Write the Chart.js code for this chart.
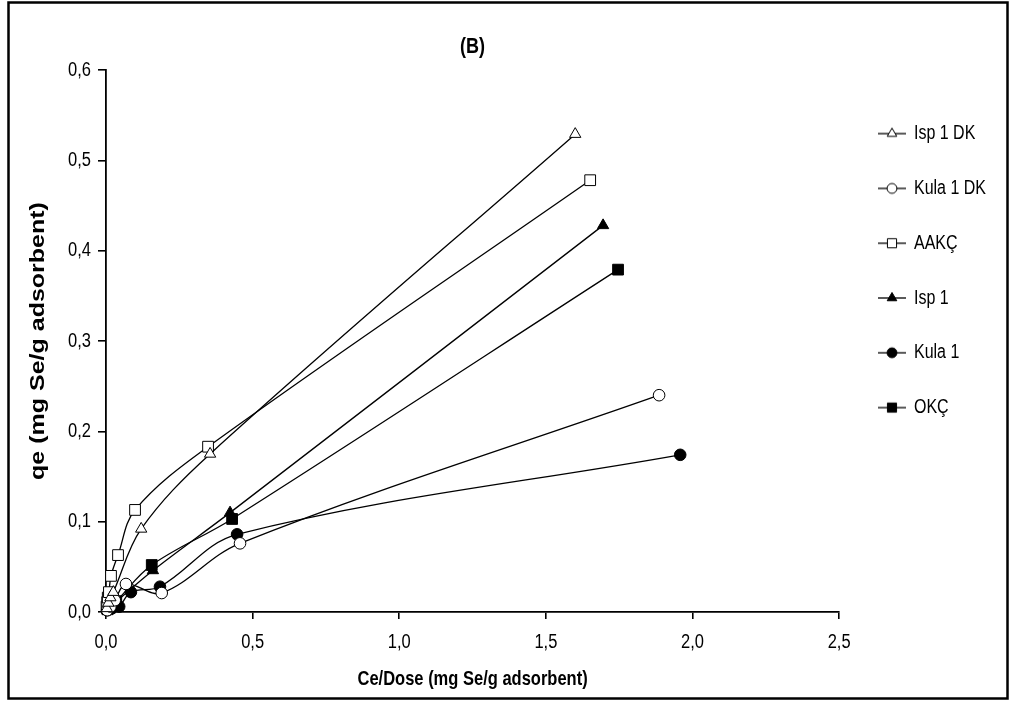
<!DOCTYPE html>
<html>
<head>
<meta charset="utf-8">
<script src="https://cdn.jsdelivr.net/npm/chart.js@4/dist/chart.umd.min.js"></script>
<style>
html, body { margin: 0; padding: 0; background: #fff; }
#wrap { position: relative; width: 1011px; height: 702px; }
</style>
</head>
<body>
<div id="wrap"><canvas id="c" width="1011" height="702"></canvas></div>
<script>
// ---- data ----
const seriesNames = ['Isp 1 DK', 'Kula 1 DK', 'AAKÇ', 'Isp 1', 'Kula 1', 'OKÇ'];

const isp1dkX = [0.003, 0.008, 0.015, 0.025, 0.12, 0.355, 1.60];
const isp1dkY = [0.004, 0.010, 0.016, 0.022, 0.092, 0.175, 0.529];

const kula1dkX = [0.004, 0.015, 0.030, 0.068, 0.19, 0.457, 1.886];
const kula1dkY = [0.002, 0.006, 0.013, 0.031, 0.021, 0.076, 0.240];

const aakcX = [0.002, 0.004, 0.006, 0.010, 0.017, 0.041, 0.099, 0.348, 1.651];
const aakcY = [0.006, 0.011, 0.016, 0.022, 0.040, 0.063, 0.113, 0.183, 0.478];

const isp1X = [0.004, 0.015, 0.030, 0.160, 0.423, 1.695];
const isp1Y = [0.002, 0.005, 0.010, 0.046, 0.110, 0.428];

const kula1X = [0.005, 0.020, 0.045, 0.085, 0.184, 0.447, 1.958];
const kula1Y = [0.002, 0.004, 0.006, 0.022, 0.028, 0.086, 0.174];

const okcX = [0.005, 0.018, 0.035, 0.156, 0.430, 1.746];
const okcY = [0.003, 0.007, 0.012, 0.052, 0.103, 0.379];

const xTickLabels = ['0,0', '0,5', '1,0', '1,5', '2,0', '2,5'];
const yTickLabels = ['0,0', '0,1', '0,2', '0,3', '0,4', '0,5', '0,6'];

const titleText = '(B)';
const xTitle = 'Ce/Dose (mg Se/g adsorbent)';
const yTitle = 'qe (mg Se/g adsorbent)';

// ---- styling ----
const FONT = "'Liberation Sans', Arial, sans-serif";
const TEXT_STRETCH = 1.25; // the reference's lettering is slightly tall
const markerStyles = [
  { pointStyle: 'triangle', filled: false, radius: 6.5 },
  { pointStyle: 'circle',   filled: false, radius: 5.8 },
  { pointStyle: 'rect',     filled: false, radius: 7.6 },
  { pointStyle: 'triangle', filled: true,  radius: 6.5 },
  { pointStyle: 'circle',   filled: true,  radius: 5.8 },
  { pointStyle: 'rect',     filled: true,  radius: 7.6 }
];
const xs = [isp1dkX, kula1dkX, aakcX, isp1X, kula1X, okcX];
const ys = [isp1dkY, kula1dkY, aakcY, isp1Y, kula1Y, okcY];

function toPoints(xArr, yArr) { return xArr.map((x, i) => ({ x: x, y: yArr[i] })); }

const datasets = seriesNames.map((name, i) => ({
  label: name,
  data: toPoints(xs[i], ys[i]),
  showLine: true,
  tension: 0.35,
  borderColor: '#000',
  borderWidth: 1.3,
  pointStyle: markerStyles[i].pointStyle,
  pointRadius: markerStyles[i].radius,
  pointHoverRadius: markerStyles[i].radius,
  pointBackgroundColor: markerStyles[i].filled ? '#000' : '#fff',
  pointBorderColor: '#000',
  pointBorderWidth: 1,
  clip: false
}));

// legend icons: short line with marker in the middle
function makeIcon(style) {
  const cv = document.createElement('canvas');
  cv.width = 28; cv.height = 14;
  const cx = cv.getContext('2d');
  cx.strokeStyle = '#000';
  cx.lineWidth = 1.3;
  cx.beginPath(); cx.moveTo(0, 7); cx.lineTo(28, 7); cx.stroke();
  cx.fillStyle = style.filled ? '#000' : '#fff';
  cx.strokeStyle = '#000';
  cx.lineWidth = 1;
  Chart.helpers.drawPoint(cx, { pointStyle: style.pointStyle, radius: style.radius * 0.85, borderWidth: 1, rotation: 0 }, 14, 7);
  return cv;
}
const legendIcons = markerStyles.map(makeIcon);

// text is drawn by Chart.js; stretch it slightly along the screen's vertical like the reference lettering
const canvas = document.getElementById('c');
const ctx2d = canvas.getContext('2d');
const nativeFillText = ctx2d.fillText;
ctx2d.fillText = function (text, x, y, maxWidth) {
  const t = this.getTransform();
  this.save();
  this.translate(x, y);
  if (Math.abs(t.b) > 0.5) { this.scale(TEXT_STRETCH, 1); } else { this.scale(1, TEXT_STRETCH); }
  if (maxWidth === undefined) { nativeFillText.call(this, text, 0, 0); }
  else { nativeFillText.call(this, text, 0, 0, maxWidth); }
  this.restore();
};

const framePlugin = {
  id: 'frame',
  beforeDraw(chart) {
    const ctx = chart.ctx;
    ctx.save();
    ctx.fillStyle = '#fff';
    ctx.fillRect(0, 0, chart.width, chart.height);
    ctx.restore();
  },
  afterDraw(chart) {
    const ctx = chart.ctx;
    ctx.save();
    ctx.strokeStyle = '#000';
    ctx.lineWidth = 2.5;
    ctx.strokeRect(8.5, 2.5, 999, 696);
    ctx.restore();
  }
};

new Chart(canvas, {
  type: 'scatter',
  data: { datasets: datasets },
  options: {
    responsive: false,
    animation: false,
    devicePixelRatio: 1,
    layout: { padding: { left: 10, right: 15, top: 0, bottom: 0 } },
    plugins: {
      tooltip: { enabled: false },
      title: {
        display: true,
        text: titleText,
        color: '#000',
        fullSize: false,
        font: { family: FONT, size: 18, weight: 'bold' },
        padding: { top: 36.2, bottom: 12.2 }
      },
      legend: {
        display: true,
        position: 'right',
        align: 'start',
        fullSize: false,
        title: { display: true, text: ' ', font: { size: 14 }, padding: 0 },
        labels: {
          usePointStyle: true,
          pointStyleWidth: 28,
          padding: 38.8,
          color: '#000',
          font: { family: FONT, size: 16 },
          generateLabels(chart) {
            return chart.data.datasets.map((ds, i) => ({
              text: ds.label,
              pointStyle: legendIcons[i],
              datasetIndex: i,
              hidden: false,
              lineWidth: 1,
              strokeStyle: '#000',
              fillStyle: '#000',
              fontColor: '#000'
            }));
          }
        }
      }
    },
    scales: {
      x: {
        type: 'linear',
        min: 0, max: 2.5,
        afterFit(s) { s.height = 90; },
        ticks: {
          stepSize: 0.5,
          maxRotation: 0,
          padding: 13,
          color: '#000',
          font: { family: FONT, size: 16.5 },
          callback: (v, i) => xTickLabels[i]
        },
        grid: { display: true, drawOnChartArea: false, drawTicks: true, tickLength: 7, color: '#000', lineWidth: 1.6 },
        border: { display: true, color: '#000', width: 1.8 },
        title: {
          display: true, text: xTitle, color: '#000',
          font: { family: FONT, size: 16.5, weight: 'bold' },
          padding: { top: 0, bottom: 12.4 }
        }
      },
      y: {
        type: 'linear',
        min: 0, max: 0.6,
        afterFit(s) { s.width = 96; },
        ticks: {
          stepSize: 0.1,
          padding: 7,
          color: '#000',
          font: { family: FONT, size: 16.5 },
          callback: (v, i) => yTickLabels[i]
        },
        grid: { display: true, drawOnChartArea: false, drawTicks: true, tickLength: 8, color: '#000', lineWidth: 1.6 },
        border: { display: true, color: '#000', width: 1.8 },
        title: {
          display: true, text: yTitle, color: '#000',
          font: { family: FONT, size: 20, weight: 'bold' },
          padding: { top: 16, bottom: 0 }
        }
      }
    }
  },
  plugins: [framePlugin]
});
</script>
</body>
</html>
